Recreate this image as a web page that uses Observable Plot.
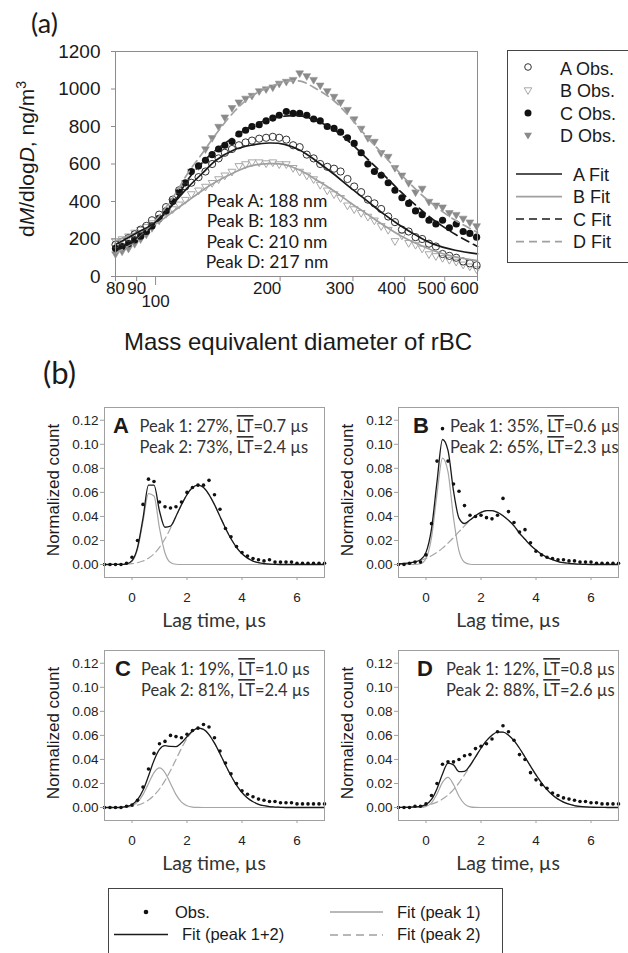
<!DOCTYPE html>
<html><head><meta charset="utf-8">
<script src="https://cdn.jsdelivr.net/npm/d3@7"></script>
<script src="https://cdn.jsdelivr.net/npm/@observablehq/plot@0.6"></script>
<style>
html,body{margin:0;padding:0;background:#fff;}
#fig{position:relative;width:628px;height:953px;overflow:hidden;background:#fff;font-family:"Liberation Sans",Arial,sans-serif;color:#1a1a1a;}
#fig svg{position:absolute;max-width:none;}
</style></head><body><div id="fig"></div>
<script>
// ---------- Panel (a): mass size distribution ----------
const sizeSeries = ["A", "B", "C", "D"];
const peakDiam = [188, 183, 210, 217];
const diam = [80,83,86,89,92,95,98,102,106,110,
  114,118,122,127,132,137,142,147,153,159,
  165,171,178,185,192,199,207,215,223,232,
  241,250,260,270,280,291,302,314,326,338,
  351,365,379,394,409,425,441,458,476,494,
  513,533,554,575,597];
const obsA = [170,185,205,225,250,270,300,330,370,410,
  460,480,500,530,560,600,630,660,680,700,
  715,725,735,740,745,740,730,700,690,650,
  630,600,585,575,560,520,480,450,410,390,
  360,320,290,250,240,210,200,175,160,120,
  110,100,80,70,60];
const obsB = [190,200,215,235,250,265,285,310,335,360,
  385,410,440,460,480,500,520,540,560,590,
  600,610,610,605,610,600,600,580,560,540,
  520,490,460,440,420,380,360,340,320,300,
  270,250,190,220,180,170,150,120,110,100,
  90,80,65,55,40];
const obsC = [150,160,175,195,215,240,270,310,350,400,
  450,500,560,590,620,650,680,700,720,760,
  780,800,810,830,845,860,880,870,870,860,
  840,830,800,790,770,740,710,660,600,560,
  540,500,460,420,390,350,330,300,280,300,
  260,280,240,230,210];
const obsD = [120,135,150,175,200,225,260,300,345,400,
  450,500,560,590,680,740,800,850,900,930,
  950,965,990,1000,1010,1030,1040,1050,1085,1070,
  1050,1020,990,960,930,890,840,790,740,720,
  660,640,580,540,500,450,470,400,380,370,
  340,330,310,290,270];
const fitDiam = [80,90,100,110,120,130,140,155,170,188,205,224,245,269,295,324,355,390,428,468,530,600];
const fitA = [170,232,290,385,478,552,620,676,700,712,705,672,615,548,475,405,335,272,218,174,140,121];
const fitB = [190,235,280,345,405,460,505,555,590,602,597,565,515,459,395,334,275,219,175,139,105,85];
const fitC = [140,195,285,385,520,610,675,745,800,838,855,856,830,785,715,630,545,455,375,305,225,160];
const fitD = [123,195,300,420,555,660,760,880,960,1010,1038,1042,1000,940,850,745,650,550,460,385,300,235];
const yTicksA = [0,200,400,600,800,1000,1200];
const xTicksLow = [80,90];
const xTickMid = [100];
const xTicksHigh = [200,300,400,500,600];

// ---------- Panel (b): lag-time distributions ----------
const lagTime = [-1.0,-0.8,-0.6,-0.4,-0.2,0.0,0.2,0.4,0.6,0.8,
  1.0,1.2,1.4,1.6,1.8,2.0,2.2,2.4,2.6,2.8,
  3.0,3.2,3.4,3.6,3.8,4.0,4.2,4.4,4.6,4.8,
  5.0,5.2,5.4,5.6,5.8,6.0,6.2,6.4,6.6,6.8,
  7.0];
const panelNames = ["A","B","C","D"];
const peak1Pct = [27,35,19,12];
const peak1LT = ["0.7","0.6","1.0","0.8"];
const peak2Pct = [73,65,81,88];
const peak2LT = ["2.4","2.3","2.4","2.6"];
const countTicks = [0,0.02,0.04,0.06,0.08,0.10,0.12];
const lagTicks = [0,2,4,6];

const obsLagA = [0.000,0.000,0.000,0.000,0.001,0.006,0.020,0.050,0.071,0.069,
  0.052,0.048,0.047,0.048,0.052,0.060,0.064,0.066,0.066,0.070,
  0.058,0.046,0.030,0.023,0.015,0.010,0.007,0.005,0.004,0.003,
  0.004,0.002,0.002,0.002,0.002,0.001,0.001,0.001,0.001,0.001,
  0.001];
const p1LagA = [0,0,0,0,0.0003,0.0026,0.0126,0.0356,0.059,0.057,
  0.0302,0.0096,0.0017,0.0002,0,0,0,0,0,0,
  0,0,0,0,0,0,0,0,0,0,
  0,0,0,0,0,0,0,0,0,0,
  0];
const p2LagA = [0,0,0.0001,0.0001,0.0003,0.0007,0.0015,0.0029,0.0053,0.0089,
  0.0143,0.0214,0.0302,0.0400,0.0498,0.0582,0.0640,0.0660,0.0640,0.0582,
  0.0498,0.0400,0.0302,0.0214,0.0143,0.0089,0.0053,0.0029,0.0015,0.0007,
  0.0003,0.0001,0,0,0,0,0,0,0,0,
  0];
const totLagA = [0,0,0.0001,0.0001,0.0006,0.0033,0.0141,0.0385,0.066,0.066,
  0.0445,0.031,0.0319,0.0402,0.0498,0.0582,0.0640,0.0660,0.0640,0.0582,
  0.0498,0.0400,0.0302,0.0214,0.0143,0.0089,0.0053,0.0029,0.0015,0.0007,
  0.0003,0.0001,0,0,0,0,0,0,0,0,
  0];

const obsLagB = [0.000,0.000,0.001,0.002,0.002,0.008,0.034,0.086,0.113,0.086,
  0.067,0.061,0.049,0.041,0.040,0.041,0.039,0.038,0.041,0.055,
  0.044,0.035,0.027,0.029,0.018,0.011,0.008,0.006,0.005,0.004,
  0.004,0.003,0.003,0.002,0.002,0.002,0.001,0.001,0.001,0.001,
  0.001];
const p1LagB = [0,0,0,0,0.0006,0.0050,0.0224,0.0586,0.0885,0.0771,
  0.0389,0.0113,0.0019,0.0002,0,0,0,0,0,0,
  0,0,0,0,0,0,0,0,0,0,
  0,0,0,0,0,0,0,0,0,0,
  0];
const p2LagB = [0.0005,0.0009,0.0014,0.0022,0.0034,0.0051,0.0073,0.0101,0.0136,0.0178,
  0.0224,0.0273,0.0322,0.0368,0.0406,0.0434,0.0448,0.0448,0.0434,0.0406,
  0.0368,0.0322,0.0260,0.0210,0.0160,0.0120,0.0085,0.0060,0.0040,0.0025,
  0.0015,0.0010,0.0006,0.0003,0.0001,0,0,0,0,0,
  0];
const totLagB = [0.0005,0.0009,0.0014,0.0022,0.0040,0.0101,0.0297,0.0687,0.1040,0.0949,
  0.0613,0.0386,0.0341,0.0370,0.0406,0.0434,0.0448,0.0448,0.0434,0.0406,
  0.0368,0.0322,0.0260,0.0210,0.0160,0.0120,0.0085,0.0060,0.0040,0.0025,
  0.0015,0.0010,0.0006,0.0003,0.0001,0,0,0,0,0,
  0];

const obsLagC = [0.000,0.000,0.000,0.000,0.001,0.002,0.006,0.017,0.032,0.045,
  0.053,0.055,0.060,0.059,0.058,0.061,0.064,0.066,0.069,0.067,
  0.058,0.047,0.037,0.028,0.020,0.014,0.011,0.009,0.007,0.006,
  0.005,0.005,0.004,0.004,0.004,0.003,0.003,0.003,0.003,0.003,
  0.003];
const p1LagC = [0,0,0,0,0.0004,0.0015,0.0045,0.0107,0.0200,0.0291,
  0.0330,0.0291,0.0200,0.0107,0.0045,0.0015,0.0004,0.0001,0,0,
  0,0,0,0,0,0,0,0,0,0,
  0,0,0,0,0,0,0,0,0,0,
  0];
const p2LagC = [0,0,0,0.0002,0.0005,0.0010,0.0020,0.0036,0.0062,0.0101,
  0.0154,0.0224,0.0308,0.0400,0.0493,0.0574,0.0632,0.0659,0.0650,0.0607,
  0.0535,0.0447,0.0353,0.0264,0.0187,0.0125,0.0079,0.0048,0.0027,0.0015,
  0.0007,0.0004,0.0002,0,0,0,0,0,0,0,
  0];
const totLagC = [0,0,0,0.0002,0.0009,0.0025,0.0065,0.0143,0.0262,0.0392,
  0.0484,0.0515,0.0508,0.0507,0.0538,0.0589,0.0636,0.0660,0.0650,0.0607,
  0.0535,0.0447,0.0353,0.0264,0.0187,0.0125,0.0079,0.0048,0.0027,0.0015,
  0.0007,0.0004,0.0002,0,0,0,0,0,0,0,
  0];

const obsLagD = [0.000,0.000,0.000,0.001,0.001,0.003,0.010,0.020,0.036,0.038,
  0.038,0.040,0.043,0.044,0.049,0.051,0.053,0.057,0.063,0.068,
  0.063,0.056,0.044,0.040,0.029,0.023,0.019,0.016,0.012,0.010,
  0.008,0.007,0.006,0.005,0.005,0.004,0.004,0.003,0.003,0.003,
  0.003];
const p1LagD = [0,0,0,0,0.0001,0.0009,0.0039,0.0112,0.0209,0.0250,
  0.0191,0.0094,0.0030,0.0006,0.0001,0,0,0,0,0,
  0,0,0,0,0,0,0,0,0,0,
  0,0,0,0,0,0,0,0,0,0,
  0];
const p2LagD = [0.0001,0.0001,0.0003,0.0005,0.0009,0.0016,0.0028,0.0045,0.0070,0.0104,
  0.0149,0.0205,0.0271,0.0344,0.0420,0.0493,0.0556,0.0602,0.0627,0.0627,
  0.0602,0.0556,0.0493,0.0420,0.0344,0.0271,0.0205,0.0149,0.0104,0.0070,
  0.0045,0.0028,0.0016,0.0009,0.0005,0.0003,0.0001,0.0001,0,0,
  0];
const totLagD = [0.0001,0.0001,0.0003,0.0005,0.0010,0.0025,0.0067,0.0157,0.0279,0.0370,
  0.0355,0.0299,0.0301,0.0350,0.0421,0.0493,0.0556,0.0602,0.0627,0.0627,
  0.0602,0.0556,0.0493,0.0420,0.0344,0.0271,0.0205,0.0149,0.0104,0.0070,
  0.0045,0.0028,0.0016,0.0009,0.0005,0.0003,0.0001,0.0001,0,0,
  0];

// ---------- drawing ----------
const fig = document.getElementById("fig");
function place(el, left, top) { el.style.left = left + "px"; el.style.top = top + "px"; fig.appendChild(el); }

const downTri = {
  draw(ctx, size) {
    const r = Math.sqrt(size / Math.PI) * 1.25;
    ctx.moveTo(0, r);
    ctx.lineTo(-r * 0.866, -r / 2);
    ctx.lineTo(r * 0.866, -r / 2);
    ctx.closePath();
  }
};

const axisGrey = "#8c8c8c";
const obsRows = diam.map((d, i) => ({d, A: obsA[i], B: obsB[i], C: obsC[i], D: obsD[i]}));
const fitRows = fitDiam.map((d, i) => ({d, A: fitA[i], B: fitB[i], C: fitC[i], D: fitD[i]}));

const pa = Plot.plot({
  width: 500, height: 300,
  marginLeft: 115, marginRight: 23, marginTop: 51, marginBottom: 24,
  style: {fontFamily: "'Liberation Sans', Arial, sans-serif", background: "transparent", color: "#1a1a1a", overflow: "visible"},
  x: {type: "log", domain: [80, 600]},
  y: {domain: [0, 1200]},
  marks: [
    Plot.dot(obsRows, {x: "d", y: "D", symbol: downTri, r: 3.6, fill: "#8a8a8a", stroke: "#8a8a8a", strokeWidth: 0.5}),
    Plot.dot(obsRows, {x: "d", y: "B", symbol: downTri, r: 3.6, fill: "none", stroke: "#a8a8a8", strokeWidth: 1}),
    Plot.dot(obsRows, {x: "d", y: "C", r: 3.6, fill: "#111", stroke: "none"}),
    Plot.dot(obsRows, {x: "d", y: "A", r: 3.6, fill: "none", stroke: "#333", strokeWidth: 1}),
    Plot.line(fitRows, {x: "d", y: "D", stroke: "#a0a0a0", strokeWidth: 1.7, strokeDasharray: "8,5", curve: "catmull-rom"}),
    Plot.line(fitRows, {x: "d", y: "B", stroke: "#a0a0a0", strokeWidth: 1.7, curve: "catmull-rom"}),
    Plot.line(fitRows, {x: "d", y: "C", stroke: "#1a1a1a", strokeWidth: 1.7, strokeDasharray: "8,5", curve: "catmull-rom"}),
    Plot.line(fitRows, {x: "d", y: "A", stroke: "#1a1a1a", strokeWidth: 1.7, curve: "catmull-rom"}),
    Plot.frame({stroke: axisGrey}),
    Plot.axisY({ticks: yTicksA, tickFormat: d => String(d), tickSize: 4, tickPadding: 11, fontSize: 19, label: null, stroke: axisGrey, color: "#1a1a1a"}),
    Plot.axisX({ticks: [...xTicksLow, ...xTicksHigh], tickSize: 5, tickFormat: () => "", label: null, stroke: axisGrey}),
    Plot.axisX({ticks: xTickMid, tickSize: 9, tickFormat: () => "", label: null, stroke: axisGrey}),
    Plot.text(xTicksLow, {x: d => d, text: d => String(d), frameAnchor: "bottom", lineAnchor: "top", dy: 5, fontSize: 17, fill: "#1a1a1a"}),
    Plot.text(xTickMid, {x: d => d, text: d => String(d), frameAnchor: "bottom", lineAnchor: "top", dy: 18, fontSize: 17, fill: "#1a1a1a"}),
    Plot.text(xTicksHigh, {x: d => d, text: d => String(d), frameAnchor: "bottom", lineAnchor: "top", dy: 5, dx: -13, fontSize: 17, fill: "#1a1a1a"})
  ]
});
place(pa, 0, 0);

function lagPanel(obs, p1, p2, tot, frameLeft, frameTop) {
  const rows = lagTime.map((t, i) => ({t, obs: obs[i], p1: p1[i], p2: p2[i], tot: tot[i]}));
  const svg = Plot.plot({
    width: 274, height: 200,
    marginLeft: 50, marginRight: 4, marginTop: 4, marginBottom: 26,
    style: {fontFamily: "'Liberation Sans', Arial, sans-serif", background: "transparent", color: "#1a1a1a", overflow: "visible"},
    x: {domain: [-1, 7]},
    y: {domain: [-0.0108, 0.1306]},
    marks: [
      Plot.line(rows, {x: "t", y: "p2", stroke: "#a6a6a6", strokeWidth: 1.2, strokeDasharray: "7,4", curve: "monotone-x"}),
      Plot.line(rows, {x: "t", y: "p1", stroke: "#a6a6a6", strokeWidth: 1.2, curve: "monotone-x"}),
      Plot.line(rows, {x: "t", y: "tot", stroke: "#1a1a1a", strokeWidth: 1.3, curve: "monotone-x"}),
      Plot.dot(rows, {x: "t", y: "obs", r: 1.8, fill: "#111"}),
      Plot.frame({stroke: "#a0a0a0"}),
      Plot.axisY({ticks: countTicks, tickFormat: d3.format(".2f"), tickSize: 4, tickPadding: 2, fontSize: 13.5, label: null, stroke: "#a0a0a0", color: "#222"}),
      Plot.axisX({ticks: lagTicks, tickFormat: d => String(d), tickSize: 3, tickPadding: 12, fontSize: 13.5, label: null, stroke: "#a0a0a0", color: "#222"})
    ]
  });
  place(svg, frameLeft - 50, frameTop - 4);
}
const frames = [[104, 407], [398, 407], [104, 650], [398, 650]];
lagPanel(obsLagA, p1LagA, p2LagA, totLagA, ...frames[0]);
lagPanel(obsLagB, p1LagB, p2LagB, totLagB, ...frames[1]);
lagPanel(obsLagC, p1LagC, p2LagC, totLagC, ...frames[2]);
lagPanel(obsLagD, p1LagD, p2LagD, totLagD, ...frames[3]);

// ---------- overlay text, legends ----------
const calibri = "Lato, 'Open Sans', sans-serif";
let o = `<svg width="628" height="953" style="left:0;top:0;pointer-events:none" xmlns="http://www.w3.org/2000/svg" font-family="'Liberation Sans', Arial, sans-serif" fill="#1a1a1a">`;
o += `<text x="31" y="33" font-family="${calibri}" font-size="27">(a)</text>`;
o += `<text transform="rotate(-90)" x="-159" y="34" text-anchor="middle" font-size="21">d<tspan font-style="italic">M</tspan>/dlog<tspan font-style="italic">D</tspan>, ng/m<tspan dy="-8" font-size="14">3</tspan></text>`;
const peakBase = [207, 227, 247.5, 268];
sizeSeries.forEach((s, i) => {
  o += `<text x="267" y="${peakBase[i]}" text-anchor="middle" font-family="${calibri}" font-size="17.5">Peak ${s}: ${peakDiam[i]} nm</text>`;
});
o += `<text x="298" y="350" text-anchor="middle" font-size="24">Mass equivalent diameter of rBC</text>`;
// legend (a)
o += `<rect x="507.5" y="50.5" width="140" height="212" fill="none" stroke="#444" stroke-width="1"/>`;
const tri = (cx, cy, R) => `M${cx},${cy + R}L${cx - R * 0.866},${cy - R / 2}L${cx + R * 0.866},${cy - R / 2}Z`;
o += `<circle cx="528" cy="67" r="3.3" fill="none" stroke="#333"/>`;
o += `<path d="${tri(528, 90, 4.4)}" fill="none" stroke="#a8a8a8"/>`;
o += `<circle cx="528" cy="113" r="3.5" fill="#111"/>`;
o += `<path d="${tri(528, 135, 4.6)}" fill="#8a8a8a"/>`;
const obsRowsY = [75, 97, 120, 141.5];
sizeSeries.forEach((s, i) => { o += `<text x="560" y="${obsRowsY[i]}" font-size="18">${s} Obs.</text>`; });
const fitLineY = [174, 196.7, 219, 241.7];
const fitStyle = [["#1a1a1a", ""], ["#a0a0a0", ""], ["#1a1a1a", "8,5"], ["#a0a0a0", "8,5"]];
sizeSeries.forEach((s, i) => {
  o += `<line x1="516" x2="562" y1="${fitLineY[i]}" y2="${fitLineY[i]}" stroke="${fitStyle[i][0]}" stroke-width="1.7" ${fitStyle[i][1] ? `stroke-dasharray="${fitStyle[i][1]}"` : ""}/>`;
  o += `<text x="573" y="${fitLineY[i] + 6.5}" font-size="18">${s} Fit</text>`;
});
// (b)
o += `<text x="43" y="384" font-family="${calibri}" font-size="31">(b)</text>`;
const letterX = [113, 413, 115, 417];
const textX = [139.5, 450, 141, 446];
panelNames.forEach((n, i) => {
  const [fl, ft] = frames[i];
  o += `<text x="${letterX[i]}" y="${ft + 26}" font-size="22" font-weight="bold">${n}</text>`;
  o += `<text x="${textX[i]}" y="${ft + 25}" font-family="${calibri}" font-size="16.5" fill="#333">Peak 1: ${peak1Pct[i]}%, <tspan style="text-decoration:overline" text-decoration="overline">LT</tspan>=${peak1LT[i]} µs</text>`;
  o += `<text x="${textX[i]}" y="${ft + 46}" font-family="${calibri}" font-size="16.5" fill="#333">Peak 2: ${peak2Pct[i]}%, <tspan style="text-decoration:overline" text-decoration="overline">LT</tspan>=${peak2LT[i]} µs</text>`;
  const cy = ft + 83;
  o += `<text transform="rotate(-90)" x="${-cy}" y="${fl - 45}" text-anchor="middle" font-size="17">Normalized count</text>`;
  o += `<text x="${fl + 110}" y="${ft + 220}" text-anchor="middle" font-family="${calibri}" font-size="19.5" fill="#333">Lag time, µs</text>`;
});
// bottom legend
o += `<rect x="108.5" y="888.5" width="394" height="80" fill="none" stroke="#444"/>`;
o += `<circle cx="146" cy="912" r="2.3" fill="#111"/>`;
o += `<text x="175" y="918" font-size="16.5">Obs.</text>`;
o += `<line x1="114" x2="168" y1="934.5" y2="934.5" stroke="#1a1a1a" stroke-width="1.5"/>`;
o += `<text x="182" y="940" font-size="16.5">Fit (peak 1+2)</text>`;
o += `<line x1="330" x2="383" y1="912" y2="912" stroke="#a0a0a0" stroke-width="1.5"/>`;
o += `<text x="397" y="918" font-size="16.5">Fit (peak 1)</text>`;
o += `<line x1="330" x2="383" y1="935" y2="935" stroke="#a0a0a0" stroke-width="1.5" stroke-dasharray="8,5"/>`;
o += `<text x="397" y="940" font-size="16.5">Fit (peak 2)</text>`;
o += `</svg>`;
fig.insertAdjacentHTML("beforeend", o);
</script>
</body></html>
